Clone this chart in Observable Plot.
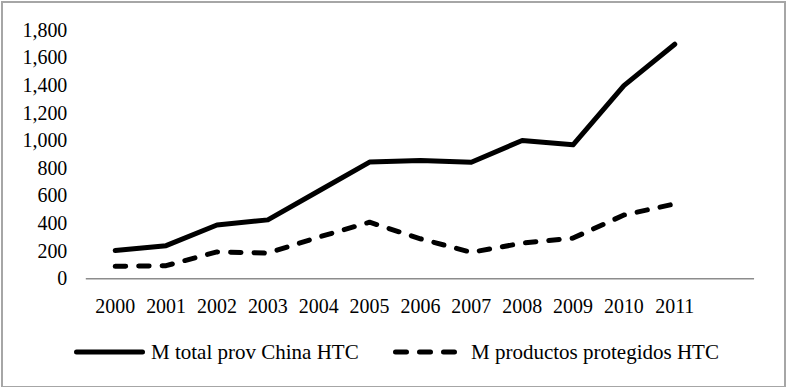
<!DOCTYPE html>
<html>
<head>
<meta charset="utf-8">
<script src="https://cdn.jsdelivr.net/npm/d3@7"></script>
<script src="https://cdn.jsdelivr.net/npm/@observablehq/plot@0.6"></script>
</head>
<body style="margin:0;padding:0;background:#fff;">
<div id="frame" style="position:absolute;left:1px;top:1px;width:781px;height:383px;border:2px solid #a6a6a6;overflow:hidden;">
  <div id="chart" style="position:absolute;left:-3px;top:-3px;"></div>
</div>
<script>
// Years on the horizontal axis (one trailing empty category, as in the source sheet)
const years = ["2000", "2001", "2002", "2003", "2004", "2005", "2006", "2007", "2008", "2009", "2010", "2011"];
const extraCategory = [""];

// Series values
const totalChinaHTC = [205, 240, 390, 427, 636, 846, 858, 845, 1002, 971, 1400, 1700];
const protegidosHTC = [90, 95, 195, 186, 302, 410, 290, 192, 258, 295, 462, 543];

// Series names
const seriesNames = ["M total prov China HTC", "M productos protegidos HTC"];

// Y axis ticks
const yTicks = [0, 200, 400, 600, 800, 1000, 1200, 1400, 1600, 1800];

const SERIF = "'Liberation Serif', serif";

const rowsTotal = years.map((year, i) => ({year, value: totalChinaHTC[i]}));
const rowsProt = years.map((year, i) => ({year, value: protegidosHTC[i]}));

const chart = Plot.plot({
  width: 786,
  height: 320,
  marginLeft: 86,
  marginRight: 30,
  marginTop: 30,
  marginBottom: 41,
  style: {fontFamily: "Liberation Serif", fontSize: "20px", color: "#000", background: "transparent", overflow: "visible"},
  x: {type: "point", domain: years.concat(extraCategory), padding: 0.5, label: null, tickSize: 0, tickPadding: 20},
  y: {domain: [0, 1800], ticks: yTicks, tickFormat: d3.format(","), label: null, tickSize: 0, tickPadding: 19},
  marks: [
    Plot.ruleY([0], {stroke: "#8c8c8c", strokeWidth: 1.5}),
    Plot.lineY(rowsTotal, {x: "year", y: "value", stroke: "#000", strokeWidth: 5, strokeLinecap: "round", strokeLinejoin: "round"}),
    Plot.lineY(rowsProt, {x: "year", y: "value", stroke: "#000", strokeWidth: 5, strokeDasharray: "10.5,13", strokeLinecap: "round", strokeLinejoin: "round"})
  ]
});
document.getElementById("chart").appendChild(chart);

// Legend below the plot
const legend = document.createElement("div");
legend.setAttribute("style", "position:absolute;top:-3px;left:-3px;width:786px;height:387px;color:#000;");
const swatches = [
  `<line x1="5.5" x2="71.5" y1="13" y2="13" stroke="#000" stroke-width="5" stroke-linecap="round"/>`,
  `<line x1="5.5" x2="64.5" y1="13" y2="13" stroke="#000" stroke-width="5" stroke-linecap="round" stroke-dasharray="11,13"/>`
];
const itemLeft = [71, 390];
const labelLeft = [80, 81];
seriesNames.forEach((name, i) => {
  const item = document.createElement("div");
  item.setAttribute("style", `position:absolute;top:339px;left:${itemLeft[i]}px;height:26px;white-space:nowrap;`);
  item.innerHTML = `<svg width="80" height="26" style="position:absolute;left:0;top:0">${swatches[i]}</svg>`;
  const label = document.createElement("span");
  label.textContent = name;
  label.setAttribute("style", `position:absolute;left:${labelLeft[i]}px;top:0;line-height:26px;font-family:${SERIF};font-size:21px;`);
  item.appendChild(label);
  legend.appendChild(item);
});
document.getElementById("frame").appendChild(legend);
</script>
</body>
</html>
